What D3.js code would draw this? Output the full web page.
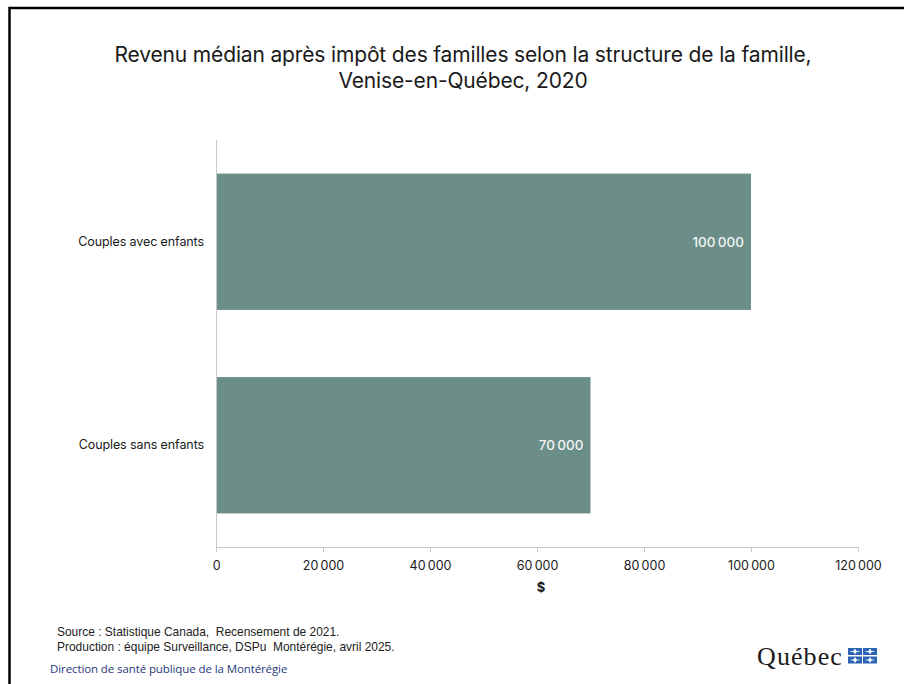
<!DOCTYPE html>
<html><head><meta charset="utf-8">
<script src="https://cdn.jsdelivr.net/npm/d3@7"></script>
<style>body{margin:0;background:#fff}svg{display:block}text{white-space:pre}</style>
</head><body>
<script>
const categories = ["Couples avec enfants", "Couples sans enfants"];
const values = [100000, 70000];
const tickValues = [0, 20000, 40000, 60000, 80000, 100000, 120000];
const titleLines = ["Revenu médian après impôt des familles selon la structure de la famille,", "Venise-en-Québec, 2020"];
const xTitle = "$";
const sourceLines = ["Source : Statistique Canada,  Recensement de 2021.", "Production : équipe Surveillance, DSPu  Montérégie, avril 2025."];
const footer = "Direction de santé publique de la Montérégie";

const W = 904, H = 684;
const svg = d3.select("body").append("svg").attr("width", W).attr("height", H);
svg.append("rect").attr("width", W).attr("height", H).attr("fill", "#fff");
// frame
svg.append("path").attr("d", "M9.5,684 V8 H904").attr("fill", "none").attr("stroke", "#000").attr("stroke-width", 2.5);

const fmt = v => d3.format(",")(v).replace(/,/g, "\u202F");
const x = d3.scaleLinear().domain([0, 120000]).range([216, 858]);
const y = d3.scaleBand().domain(categories).range([140, 547]).paddingInner(0.33).paddingOuter(0.165);

svg.append("g").selectAll("text").data(titleLines).join("text")
  .attr("x", 463).attr("y", (d, i) => 62 + i * 26).attr("text-anchor", "middle")
  .attr("font-family", "Inter, 'Noto Sans', sans-serif").attr("font-size", 21).attr("fill", "#1a1a1a")
  .attr("letter-spacing", -0.15).text(d => d);

// bars
svg.append("g").selectAll("rect").data(categories).join("rect")
  .attr("x", x(0)).attr("y", d => y(d)).attr("width", (d, i) => x(values[i]) - x(0)).attr("height", y.bandwidth())
  .attr("fill", "#6b8f88");

svg.append("g").selectAll("text").data(categories).join("text")
  .attr("x", (d, i) => x(values[i]) - 7).attr("y", d => y(d) + y.bandwidth() / 2 + 5)
  .attr("text-anchor", "end").attr("font-family", "Inter, 'Noto Sans', sans-serif").attr("font-size", 13.5)
  .attr("font-weight", 500).attr("fill", "#f4f4f4").attr("letter-spacing", -0.3).text((d, i) => fmt(values[i]));

// y axis
const ya = svg.append("g").attr("transform", `translate(${x(0)},0)`).call(d3.axisLeft(y).tickSize(0).tickPadding(12));
ya.select(".domain").attr("stroke", "#c8c8c8").attr("d", `M0.5,140V547`);
ya.selectAll("text").attr("font-family", "Inter, 'Noto Sans', sans-serif").attr("font-size", 12.5).attr("fill", "#1a1a1a").attr("letter-spacing", -0.1);

// x axis
const xa = svg.append("g").attr("transform", "translate(0,547)")
  .call(d3.axisBottom(x).tickValues(tickValues).tickFormat(fmt).tickSize(5).tickPadding(9).tickSizeOuter(0));
xa.select(".domain").attr("stroke", "#c8c8c8");
xa.selectAll(".tick line").attr("stroke", "#c8c8c8");
xa.selectAll("text").attr("font-family", "Inter, 'Noto Sans', sans-serif").attr("font-size", 12.5).attr("fill", "#1a1a1a").attr("letter-spacing", -0.4);

svg.append("text").attr("x", 541).attr("y", 592).attr("text-anchor", "middle")
  .attr("font-family", "Inter, 'Noto Sans', sans-serif").attr("font-weight", "bold").attr("font-size", 13).attr("fill", "#1a1a1a").text(xTitle);

svg.append("g").selectAll("text").data(sourceLines).join("text")
  .attr("transform", (d, i) => `translate(57,${636 + i * 15}) scale(0.92,1)`)
  .attr("font-family", "'Liberation Sans', Arial, sans-serif").attr("font-size", 13).attr("fill", "#222")
  .text(d => d);

svg.append("text").attr("x", 50).attr("y", 673).attr("font-family", "'Open Sans', 'Noto Sans', sans-serif")
  .attr("font-size", 11.5).attr("fill", "#263a78").attr("letter-spacing", -0.1).text(footer);

// Québec logo
const logo = svg.append("g");
logo.append("text").attr("x", 757).attr("y", 665).attr("font-family", "'Liberation Serif', 'DejaVu Serif', serif")
  .attr("font-size", 26).attr("fill", "#1a1a1a").attr("letter-spacing", 1.1).text("Québec");
[[848, 648], [863, 648], [848, 656.5], [863, 656.5]].forEach(([sx, sy]) => {
  logo.append("rect").attr("x", sx).attr("y", sy).attr("width", 14).attr("height", 7).attr("fill", "#2a63b4");
  logo.append("path").attr("d", `M${sx + 7},${sy + 1.2} l1.6,2.3 l-1.6,2.3 l-1.6,-2.3z M${sx + 2.5},${sy + 3.5} h9`).attr("fill", "#fff").attr("stroke", "#fff").attr("stroke-width", 0.8);
});
</script>
</body></html>
